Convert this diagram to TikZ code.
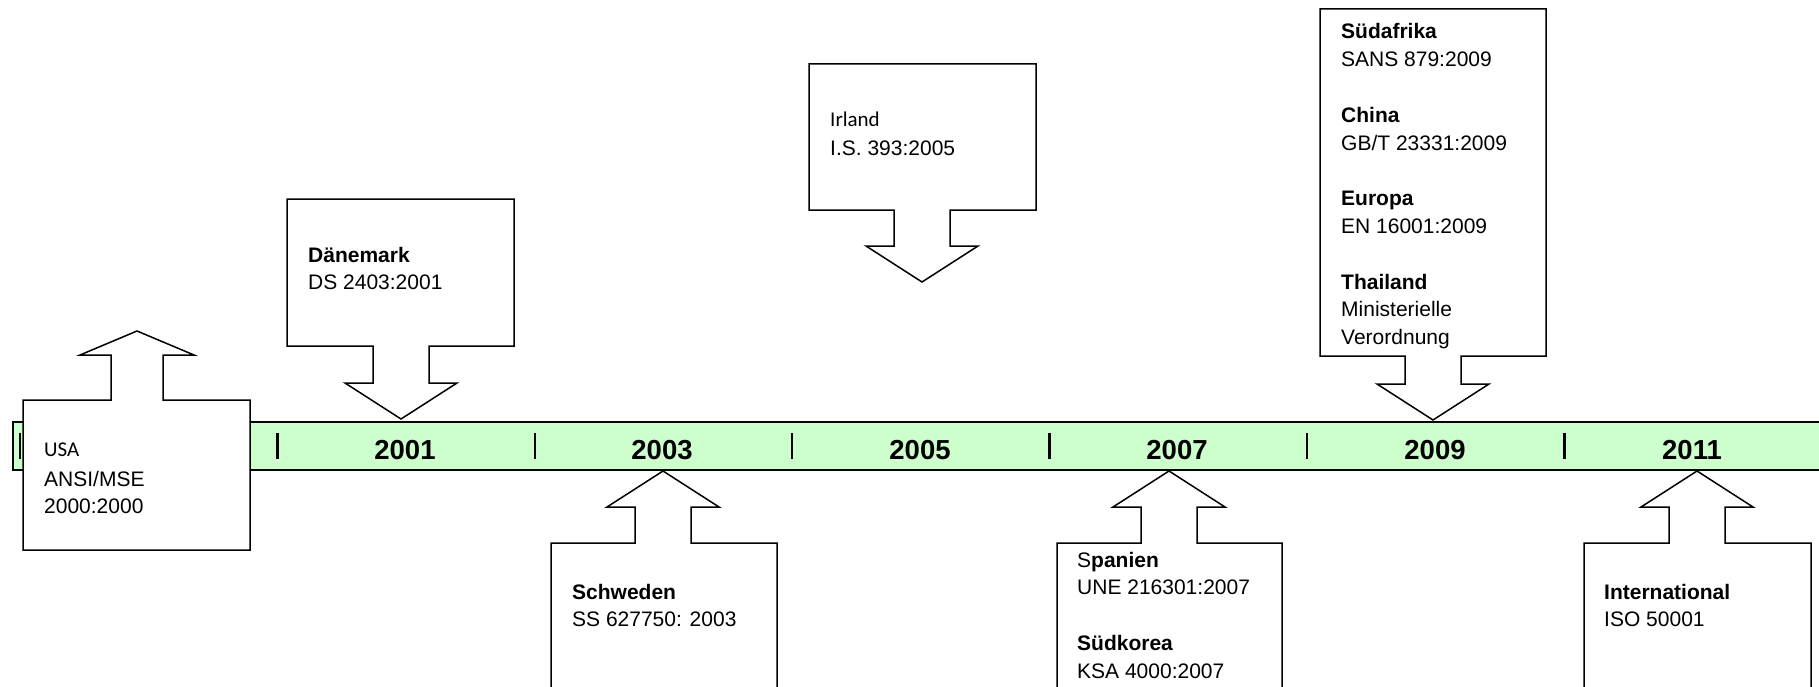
\documentclass[tikz,border=0pt]{standalone}
\usepackage{fontspec}
\setmainfont{Liberation Sans}
\newfontfamily\calfont{Carlito}
\definecolor{bandgreen}{HTML}{CCFFCC}
\tikzset{
  callout/.style={draw=black, fill=white, line width=1.5pt, line join=miter},
  band/.style={draw=black, fill=bandgreen, line width=1.8pt},
  tick/.style={draw=black, line width=2.3pt},
  year/.style={font=\fontsize{27.5}{30}\selectfont\bfseries, inner sep=0pt, anchor=base},
  txt/.style={font=\fontsize{21}{27.8}\selectfont, inner sep=0pt, anchor=base west},
}
% #1 cx, #2 left, #3 right, #4 far edge y, #5 near edge y, #6 neck y, #7 tip y, #8 shaft half width, #9 wing half width
\newcommand\calloutpath[9]{%
  \draw[callout] (#2,#4) -- (#3,#4) -- (#3,#5) -- ({#1+#8},#5) -- ({#1+#8},#6)
    -- ({#1+#9},#6) -- (#1,#7) -- ({#1-#9},#6) -- ({#1-#8},#6) -- ({#1-#8},#5)
    -- (#2,#5) -- cycle;}
\begin{document}
\begin{tikzpicture}[x=1pt,y=-1pt]
\clip (0,0) rectangle (1819,687);
\fill[white] (0,0) rectangle (1819,687);
% timeline band
\draw[band] (13,422) rectangle (1840,470);
\foreach \i in {0,...,6} {
  \draw[tick] ({20+257.4*\i},433) -- ({20+257.4*\i},459);
}
\node[year] (y2001) at (405,459) {2001};
\node[year] (y2003) at (662,459) {2003};
\node[year] (y2005) at (920,459) {2005};
\node[year] (y2007) at (1177,459) {2007};
\node[year] (y2009) at (1435,459) {2009};
\node[year] (y2011) at (1692,459) {2011};
% callouts
\calloutpath{137}{23}{250}{550}{400}{355}{331}{26}{57}
\calloutpath{401}{287}{514}{199}{346}{383}{419}{28}{56}
\calloutpath{922}{809}{1036}{64}{210}{246}{282}{28}{56}
\calloutpath{663}{551}{777}{720}{543}{507}{471}{28}{56}
\calloutpath{1169}{1057}{1282}{720}{543}{507}{471}{28}{56}
\calloutpath{1433}{1320}{1546}{9}{356}{384}{420}{28}{56}
\calloutpath{1697}{1584}{1811}{720}{543}{507}{471}{28}{56}
% texts
\node[txt] (usa) at (44,456) {\calfont USA};
\node[txt] (usa2) at (44,486) {\vtop{\hbox{ANSI/MSE}\hbox{2000:2000}}};
\node[txt] (dk) at (308,262) {\vtop{\hbox{\textbf{Dänemark}}\hbox{DS 2403:2001}}};
\node[txt] (ie) at (830,127) {\calfont Irland};
\node[txt] (ie2) at (830,156) {I.S. 393:2005};
\node[txt] (se) at (572,599) {\vtop{\hbox{\textbf{Schweden}}\hbox{SS 627750: 2003}}};
\node[txt] (es) at (1077,567) {\vtop{\hbox{S\textbf{panien}}\hbox{UNE 216301:2007}\hbox{}\hbox{\textbf{Südkorea}}\hbox{KSA 4000:2007}}};
\node[txt] (za) at (1341,39) {\vtop{\hbox{\textbf{Südafrika}}\hbox{SANS 879:2009}\hbox{}\hbox{\textbf{China}}\hbox{GB/T 23331:2009}\hbox{}\hbox{\textbf{Europa}}\hbox{EN 16001:2009}\hbox{}\hbox{\textbf{Thailand}}\hbox{Ministerielle}\hbox{Verordnung}}};
\node[txt] (int) at (1604,599) {\vtop{\hbox{\textbf{International}}\hbox{ISO 50001}}};
\end{tikzpicture}
\end{document}
